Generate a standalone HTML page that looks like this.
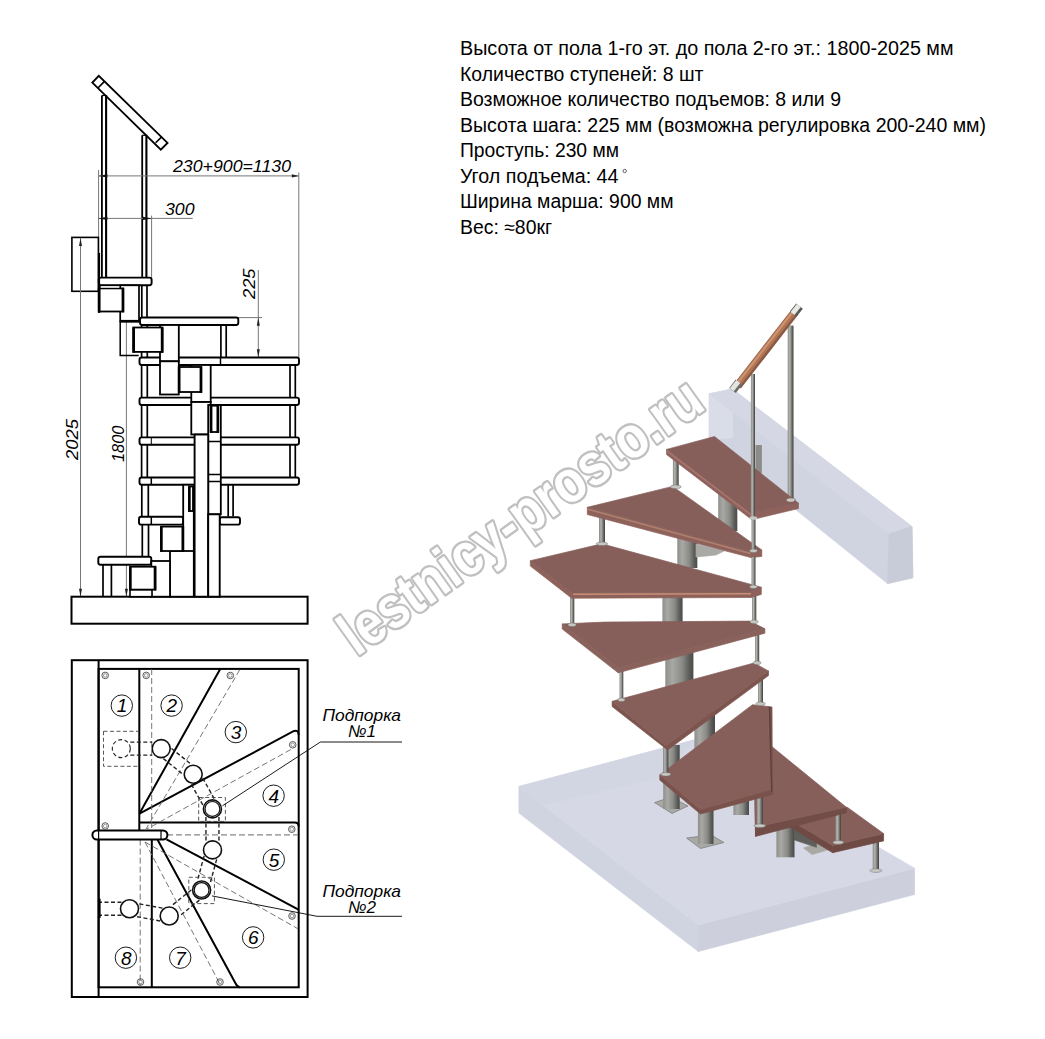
<!DOCTYPE html>
<html><head><meta charset="utf-8"><style>
html,body{margin:0;padding:0;background:#fff;width:1045px;height:1039px;overflow:hidden}
svg{display:block}
.info{font-family:"Liberation Sans",sans-serif;font-size:19.4px;fill:#000}
.dim{font-family:"Liberation Sans",sans-serif;font-style:italic;font-size:17px;fill:#000}
.num{font-family:"Liberation Sans",sans-serif;font-style:italic;font-size:19px;fill:#000}
</style></head><body>
<svg width="1045" height="1039" viewBox="0 0 1045 1039">
<text x="460" y="55.0" textLength="493.5" lengthAdjust="spacingAndGlyphs" class="info">Высота от пола 1-го эт. до пола 2-го эт.: 1800-2025 мм</text>
<text x="460" y="80.6" textLength="243.5" lengthAdjust="spacingAndGlyphs" class="info">Количество ступеней: 8 шт</text>
<text x="460" y="106.1" textLength="381.0" lengthAdjust="spacingAndGlyphs" class="info">Возможное количество подъемов: 8 или 9</text>
<text x="460" y="131.7" textLength="526.0" lengthAdjust="spacingAndGlyphs" class="info">Высота шага: 225 мм (возможна регулировка 200-240 мм)</text>
<text x="460" y="157.3" textLength="159.0" lengthAdjust="spacingAndGlyphs" class="info">Проступь: 230 мм</text>
<text x="460" y="182.8" textLength="158.5" lengthAdjust="spacingAndGlyphs" class="info">Угол подъема: 44</text>
<text x="460" y="208.4" textLength="213.5" lengthAdjust="spacingAndGlyphs" class="info">Ширина марша: 900 мм</text>
<text x="460" y="234.0" textLength="92.0" lengthAdjust="spacingAndGlyphs" class="info">Вес: ≈80кг</text>
<circle cx="624.7" cy="171" r="1.7" fill="none" stroke="#555" stroke-width="0.9"/>
<path d="M92.3,82.6 L98.8,75.8 L167.5,142.9 L160.8,149.6 Z" fill="#fff" stroke="#000" stroke-width="1.9"/>
<line x1="98.2" y1="87.8" x2="104.5" y2="81.4" stroke="#000" stroke-width="1.6" />
<line x1="155.6" y1="142.8" x2="162.0" y2="136.6" stroke="#000" stroke-width="1.6" />
<line x1="101.9" y1="95.5" x2="101.9" y2="278" stroke="#000" stroke-width="1.8" />
<line x1="106.1" y1="95.0" x2="106.1" y2="278" stroke="#000" stroke-width="2.1" />
<line x1="101.9" y1="95.5" x2="106.1" y2="95.5" stroke="#000" stroke-width="1.2" />
<line x1="142.2" y1="135.3" x2="142.2" y2="278" stroke="#000" stroke-width="1.8" />
<line x1="146.4" y1="134.8" x2="146.4" y2="278" stroke="#000" stroke-width="2.1" />
<line x1="142.2" y1="135.3" x2="146.4" y2="135.3" stroke="#000" stroke-width="1.2" />
<line x1="98.4" y1="175.9" x2="298.8" y2="175.9" stroke="#777" stroke-width="1" />
<path d="M298.8,175.9 L291.80,177.50 L291.80,174.30 Z" fill="#222"/>
<path d="M98.4,175.9 L107.40,174.20 L107.40,177.60 Z" fill="#111"/>
<line x1="298.8" y1="172.5" x2="298.8" y2="357" stroke="#777" stroke-width="1" />
<line x1="98.6" y1="170" x2="98.6" y2="276" stroke="#777" stroke-width="1" />
<line x1="98.4" y1="218.4" x2="192.7" y2="218.4" stroke="#777" stroke-width="1" />
<path d="M98.4,218.4 L107.40,216.70 L107.40,220.10 Z" fill="#111"/>
<path d="M152,218.4 L143.00,220.10 L143.00,216.70 Z" fill="#111"/>
<line x1="151.6" y1="215.6" x2="151.6" y2="283" stroke="#777" stroke-width="1" />
<text x="173" y="172" class="dim" textLength="118" lengthAdjust="spacingAndGlyphs">230+900=1130</text>
<text x="165" y="215.3" class="dim" textLength="29.5" lengthAdjust="spacingAndGlyphs">300</text>
<text transform="translate(77.8,460) rotate(-90)" class="dim" textLength="41" lengthAdjust="spacingAndGlyphs">2025</text>
<text transform="translate(123.5,462) rotate(-90)" class="dim" textLength="36.5" lengthAdjust="spacingAndGlyphs">1800</text>
<text transform="translate(255,299) rotate(-90)" class="dim" textLength="30.5" lengthAdjust="spacingAndGlyphs">225</text>
<rect x="71.9" y="237.4" width="26.50" height="53.90" rx="0" fill="none" stroke="#000" stroke-width="1.6"/>
<line x1="80.5" y1="238" x2="80.5" y2="596.7" stroke="#777" stroke-width="1" />
<path d="M80.5,238 L82.00,246.00 L79.00,246.00 Z" fill="#222"/>
<path d="M80.5,596.7 L79.00,588.70 L82.00,588.70 Z" fill="#222"/>
<line x1="126.4" y1="280" x2="126.4" y2="596.7" stroke="#777" stroke-width="1" />
<path d="M126.4,279.6 L127.90,287.60 L124.90,287.60 Z" fill="#222"/>
<path d="M126.4,596.7 L124.90,588.70 L127.90,588.70 Z" fill="#222"/>
<line x1="238" y1="317.6" x2="262" y2="317.6" stroke="#777" stroke-width="1" />
<line x1="258.3" y1="270" x2="258.3" y2="357.4" stroke="#777" stroke-width="1" />
<path d="M258.3,317.8 L259.80,325.80 L256.80,325.80 Z" fill="#222"/>
<path d="M258.3,357.2 L256.80,349.20 L259.80,349.20 Z" fill="#222"/>
<rect x="71.5" y="596.7" width="236.10" height="27.00" rx="0" fill="none" stroke="#000" stroke-width="2"/>
<line x1="141.8" y1="286" x2="141.8" y2="317.6" stroke="#000" stroke-width="1.7" />
<line x1="147.0" y1="286" x2="147.0" y2="317.6" stroke="#000" stroke-width="1.7" />
<line x1="141.6" y1="324.9" x2="141.6" y2="357.4" stroke="#000" stroke-width="1.7" />
<line x1="147.3" y1="324.9" x2="147.3" y2="357.4" stroke="#000" stroke-width="1.7" />
<line x1="141.6" y1="365" x2="141.6" y2="397.6" stroke="#000" stroke-width="1.7" />
<line x1="147.3" y1="365" x2="147.3" y2="397.6" stroke="#000" stroke-width="1.7" />
<line x1="141.6" y1="404.9" x2="141.6" y2="437.4" stroke="#000" stroke-width="1.7" />
<line x1="147.3" y1="404.9" x2="147.3" y2="437.4" stroke="#000" stroke-width="1.7" />
<line x1="141.6" y1="445" x2="141.6" y2="477.1" stroke="#000" stroke-width="1.7" />
<line x1="147.3" y1="445" x2="147.3" y2="477.1" stroke="#000" stroke-width="1.7" />
<line x1="141.8" y1="484.7" x2="141.8" y2="516.6" stroke="#000" stroke-width="1.7" />
<line x1="148.3" y1="484.7" x2="148.3" y2="516.6" stroke="#000" stroke-width="1.7" />
<line x1="142.3" y1="525" x2="142.3" y2="556.7" stroke="#000" stroke-width="1.7" />
<line x1="148.5" y1="525" x2="148.5" y2="556.7" stroke="#000" stroke-width="1.7" />
<line x1="220.9" y1="324.9" x2="220.9" y2="357.4" stroke="#000" stroke-width="1.7" />
<line x1="226.2" y1="324.9" x2="226.2" y2="357.4" stroke="#000" stroke-width="1.7" />
<line x1="290" y1="365" x2="290" y2="397.6" stroke="#000" stroke-width="1.7" />
<line x1="295.3" y1="365" x2="295.3" y2="397.6" stroke="#000" stroke-width="1.7" />
<line x1="290" y1="404.9" x2="290" y2="437.4" stroke="#000" stroke-width="1.7" />
<line x1="295.3" y1="404.9" x2="295.3" y2="437.4" stroke="#000" stroke-width="1.7" />
<line x1="290" y1="445" x2="290" y2="477.1" stroke="#000" stroke-width="1.7" />
<line x1="295.3" y1="445" x2="295.3" y2="477.1" stroke="#000" stroke-width="1.7" />
<line x1="228.2" y1="484.7" x2="228.2" y2="516.6" stroke="#000" stroke-width="1.7" />
<line x1="233.1" y1="484.7" x2="233.1" y2="516.6" stroke="#000" stroke-width="1.7" />
<line x1="103" y1="564.4" x2="103" y2="596.7" stroke="#000" stroke-width="1.7" />
<line x1="111.4" y1="564.4" x2="111.4" y2="596.7" stroke="#000" stroke-width="1.7" />
<rect x="98.8" y="277.6" width="52.80" height="7.70" rx="2.2" fill="#fff" stroke="#000" stroke-width="1.9"/>
<rect x="140" y="317.5" width="98.30" height="7.50" rx="2.2" fill="#fff" stroke="#000" stroke-width="1.9"/>
<rect x="139.5" y="357.5" width="159.50" height="7.50" rx="2.2" fill="#fff" stroke="#000" stroke-width="1.9"/>
<rect x="139.5" y="397.6" width="159.50" height="7.40" rx="2.2" fill="#fff" stroke="#000" stroke-width="1.9"/>
<rect x="139.5" y="437.4" width="159.50" height="7.30" rx="2.2" fill="#fff" stroke="#000" stroke-width="1.9"/>
<rect x="139.5" y="477.5" width="159.50" height="7.30" rx="2.2" fill="#fff" stroke="#000" stroke-width="1.9"/>
<rect x="139" y="516.7" width="44.20" height="7.90" rx="2.2" fill="#fff" stroke="#000" stroke-width="1.9"/>
<rect x="219.7" y="517.2" width="20.30" height="7.40" rx="2.2" fill="#fff" stroke="#000" stroke-width="1.9"/>
<rect x="98.3" y="556.8" width="53.00" height="8.00" rx="2.2" fill="#fff" stroke="#000" stroke-width="1.9"/>
<line x1="220.5" y1="357.5" x2="220.5" y2="365" stroke="#000" stroke-width="1.5" />
<line x1="151.3" y1="477.5" x2="151.3" y2="484.8" stroke="#000" stroke-width="1.5" />
<line x1="151.3" y1="516.7" x2="151.3" y2="524.6" stroke="#000" stroke-width="1.5" />
<line x1="151.3" y1="437.4" x2="151.3" y2="444.7" stroke="#000" stroke-width="1.0" />
<rect x="120.2" y="285.3" width="18.80" height="35.90" rx="0" fill="#fff" stroke="#000" stroke-width="1.7"/>
<rect x="160" y="325" width="18.80" height="36.30" rx="0" fill="#fff" stroke="#000" stroke-width="1.8"/>
<rect x="160" y="361.3" width="18.80" height="33.20" rx="0" fill="#fff" stroke="#000" stroke-width="1.8"/>
<rect x="191.3" y="365" width="19.40" height="37.00" rx="0" fill="#fff" stroke="#000" stroke-width="1.8"/>
<rect x="191.3" y="402" width="19.40" height="32.50" rx="0" fill="#fff" stroke="#000" stroke-width="1.8"/>
<rect x="208.2" y="405" width="12.60" height="109.30" rx="0" fill="#fff" stroke="#000" stroke-width="1.8"/>
<rect x="194.6" y="434.5" width="13.60" height="162.20" rx="0" fill="#fff" stroke="#000" stroke-width="1.9"/>
<rect x="208.2" y="514.3" width="11.50" height="82.40" rx="0" fill="#fff" stroke="#000" stroke-width="1.9"/>
<rect x="183.2" y="484.8" width="10.60" height="69.60" rx="0" fill="#fff" stroke="#000" stroke-width="1.8"/>
<rect x="170" y="551" width="23.80" height="45.70" rx="0" fill="#fff" stroke="#000" stroke-width="1.8"/>
<rect x="151.3" y="561" width="18.70" height="35.70" rx="0" fill="#fff" stroke="#000" stroke-width="1.8"/>
<rect x="130" y="589.6" width="22.00" height="7.10" rx="0" fill="#fff" stroke="#000" stroke-width="1.6"/>
<line x1="208.2" y1="441.5" x2="220.8" y2="441.5" stroke="#000" stroke-width="1.5" />
<line x1="208.2" y1="474.5" x2="220.8" y2="474.5" stroke="#000" stroke-width="1.5" />
<line x1="208.2" y1="481.5" x2="220.8" y2="481.5" stroke="#000" stroke-width="1.5" />
<line x1="120.2" y1="321.2" x2="139" y2="321.2" stroke="#000" stroke-width="2.6" />
<path d="M139,321.5 L120.2,321.5 L120.2,355.5 L138.7,355.5" fill="none" stroke="#000" stroke-width="1.5"/>
<rect x="98.8" y="288.4" width="24.50" height="23.10" rx="0" fill="#fff" stroke="#000" stroke-width="1.8"/>
<line x1="99.2" y1="288.4" x2="99.2" y2="312.3" stroke="#000" stroke-width="2.6" />
<line x1="122.89999999999999" y1="288.4" x2="122.89999999999999" y2="312.3" stroke="#000" stroke-width="2.6" />
<rect x="133.3" y="327.5" width="29.20" height="24.40" rx="0" fill="#fff" stroke="#000" stroke-width="1.8"/>
<line x1="133.70000000000002" y1="327.5" x2="133.70000000000002" y2="352.7" stroke="#000" stroke-width="2.6" />
<line x1="162.1" y1="327.5" x2="162.1" y2="352.7" stroke="#000" stroke-width="2.6" />
<rect x="178.8" y="367" width="22.50" height="25.00" rx="0" fill="#fff" stroke="#000" stroke-width="1.8"/>
<line x1="179.20000000000002" y1="367" x2="179.20000000000002" y2="392.8" stroke="#000" stroke-width="2.6" />
<line x1="200.9" y1="367" x2="200.9" y2="392.8" stroke="#000" stroke-width="2.6" />
<rect x="210.7" y="405.7" width="7.50" height="26.30" rx="0" fill="#fff" stroke="#000" stroke-width="1.8"/>
<line x1="211.1" y1="405.7" x2="211.1" y2="432.8" stroke="#000" stroke-width="2.6" />
<line x1="217.79999999999998" y1="405.7" x2="217.79999999999998" y2="432.8" stroke="#000" stroke-width="2.6" />
<rect x="189" y="486.5" width="4.80" height="24.50" rx="0" fill="#fff" stroke="#000" stroke-width="1.8"/>
<line x1="189.4" y1="486.5" x2="189.4" y2="511.8" stroke="#000" stroke-width="2.6" />
<line x1="193.4" y1="486.5" x2="193.4" y2="511.8" stroke="#000" stroke-width="2.6" />
<rect x="161" y="526.6" width="22.20" height="24.40" rx="0" fill="#fff" stroke="#000" stroke-width="1.8"/>
<line x1="161.4" y1="526.6" x2="161.4" y2="551.8" stroke="#000" stroke-width="2.6" />
<line x1="182.79999999999998" y1="526.6" x2="182.79999999999998" y2="551.8" stroke="#000" stroke-width="2.6" />
<rect x="130" y="566.7" width="25.40" height="22.90" rx="0" fill="#fff" stroke="#000" stroke-width="1.8"/>
<line x1="130.4" y1="566.7" x2="130.4" y2="590.4" stroke="#000" stroke-width="2.6" />
<line x1="155.0" y1="566.7" x2="155.0" y2="590.4" stroke="#000" stroke-width="2.6" />
<rect x="100" y="285.5" width="20.00" height="2.90" rx="0" fill="#fff" stroke="#000" stroke-width="1.2"/>
<line x1="99" y1="253" x2="99" y2="312.8" stroke="#000" stroke-width="2.2" />
<rect x="71.8" y="660.2" width="235.8" height="336.8" fill="none" stroke="#000" stroke-width="2"/>
<line x1="98.60" y1="660.00" x2="98.60" y2="997.00" stroke="#000" stroke-width="2" />
<rect x="98.6" y="668.9" width="200.1" height="318.4" fill="none" stroke="#000" stroke-width="2"/>
<line x1="139.30" y1="668.90" x2="139.30" y2="830.00" stroke="#000" stroke-width="2" />
<line x1="151.80" y1="839.60" x2="151.80" y2="987.30" stroke="#000" stroke-width="2" />
<path d="M139.3,822.6 L294.7,822.6 Q298.7,822.6 298.7,826.6" fill="none" stroke="#000" stroke-width="2"/>
<line x1="139.50" y1="813.60" x2="220.20" y2="669.00" stroke="#000" stroke-width="2" />
<path d="M139.5,813.6 L293.5,731.2 Q298.5,729.5 298.7,735" fill="none" stroke="#000" stroke-width="2"/>
<line x1="166.50" y1="839.30" x2="298.50" y2="909.60" stroke="#000" stroke-width="2" />
<path d="M157.3,839.3 L235.6,983.5 Q237.6,987.3 240,987.3" fill="none" stroke="#000" stroke-width="2"/>
<line x1="151.70" y1="669.00" x2="151.70" y2="830.00" stroke="#666" stroke-width="0.9" stroke-dasharray="6 3"/>
<line x1="140.20" y1="839.60" x2="140.20" y2="987.00" stroke="#666" stroke-width="0.9" stroke-dasharray="6 3"/>
<line x1="167.00" y1="834.80" x2="298.00" y2="834.80" stroke="#888" stroke-width="1.2" stroke-dasharray="6 3"/>
<line x1="239.80" y1="669.70" x2="146.00" y2="829.00" stroke="#666" stroke-width="0.9" stroke-dasharray="6 3"/>
<line x1="290.90" y1="749.50" x2="147.00" y2="829.00" stroke="#666" stroke-width="0.9" stroke-dasharray="6 3"/>
<line x1="145.00" y1="842.00" x2="298.00" y2="928.80" stroke="#666" stroke-width="0.9" stroke-dasharray="6 3"/>
<line x1="145.00" y1="842.00" x2="219.30" y2="982.80" stroke="#666" stroke-width="0.9" stroke-dasharray="6 3"/>
<rect x="92.4" y="830.5" width="75" height="9.1" rx="4.5" fill="#fff" stroke="#000" stroke-width="2"/>
<line x1="98.60" y1="830.50" x2="98.60" y2="839.60" stroke="#000" stroke-width="1.2" />
<line x1="161.00" y1="830.50" x2="161.00" y2="839.60" stroke="#000" stroke-width="1.2" />
<rect x="103.5" y="731.3" width="35.2" height="35" fill="none" stroke="#444" stroke-width="0.9" stroke-dasharray="4 2.5"/>
<circle cx="121.3" cy="748.6" r="9" fill="none" stroke="#222" stroke-width="1.1" stroke-dasharray="4 2.5"/>
<line x1="130.30" y1="755.10" x2="152.20" y2="755.10" stroke="#222" stroke-width="1.4" stroke-dasharray="4 2.5"/><line x1="130.30" y1="742.10" x2="152.20" y2="742.10" stroke="#222" stroke-width="1.4" stroke-dasharray="4 2.5"/>
<line x1="163.39" y1="758.67" x2="182.89" y2="774.28" stroke="#222" stroke-width="1.4" stroke-dasharray="4 2.5"/><line x1="171.51" y1="748.52" x2="191.01" y2="764.13" stroke="#222" stroke-width="1.4" stroke-dasharray="4 2.5"/>
<line x1="191.39" y1="784.35" x2="202.84" y2="805.05" stroke="#222" stroke-width="1.4" stroke-dasharray="4 2.5"/><line x1="202.76" y1="778.05" x2="214.21" y2="798.75" stroke="#222" stroke-width="1.4" stroke-dasharray="4 2.5"/>
<line x1="205.92" y1="816.92" x2="205.98" y2="841.92" stroke="#222" stroke-width="1.4" stroke-dasharray="4 2.5"/><line x1="218.92" y1="816.88" x2="218.98" y2="841.88" stroke="#222" stroke-width="1.4" stroke-dasharray="4 2.5"/>
<line x1="204.13" y1="855.91" x2="197.43" y2="880.58" stroke="#222" stroke-width="1.4" stroke-dasharray="4 2.5"/><line x1="216.67" y1="859.32" x2="209.97" y2="883.99" stroke="#222" stroke-width="1.4" stroke-dasharray="4 2.5"/>
<line x1="191.29" y1="889.94" x2="171.37" y2="905.92" stroke="#222" stroke-width="1.4" stroke-dasharray="4 2.5"/><line x1="199.43" y1="900.08" x2="179.51" y2="916.06" stroke="#222" stroke-width="1.4" stroke-dasharray="4 2.5"/>
<line x1="162.51" y1="908.16" x2="138.54" y2="903.75" stroke="#222" stroke-width="1.4" stroke-dasharray="4 2.5"/><line x1="160.16" y1="920.95" x2="136.19" y2="916.54" stroke="#222" stroke-width="1.4" stroke-dasharray="4 2.5"/>
<line x1="121.50" y1="902.20" x2="99.50" y2="902.20" stroke="#222" stroke-width="1.4" stroke-dasharray="4 2.5"/><line x1="121.50" y1="915.20" x2="99.50" y2="915.20" stroke="#222" stroke-width="1.4" stroke-dasharray="4 2.5"/>
<line x1="99.50" y1="898.70" x2="99.50" y2="918.00" stroke="#000" stroke-width="2.2" />
<circle cx="161.2" cy="748.6" r="9" fill="#fff" stroke="#111" stroke-width="1.6" />
<circle cx="193.2" cy="774.2" r="9" fill="#fff" stroke="#111" stroke-width="1.6" />
<circle cx="212.4" cy="808.9" r="9" fill="#fff" stroke="#111" stroke-width="1.6" />
<circle cx="212.5" cy="849.9" r="9" fill="#fff" stroke="#111" stroke-width="1.6" />
<circle cx="201.6" cy="890" r="9" fill="#fff" stroke="#111" stroke-width="1.6" />
<circle cx="169.2" cy="916" r="9" fill="#fff" stroke="#111" stroke-width="1.6" />
<circle cx="129.5" cy="908.7" r="9" fill="#fff" stroke="#111" stroke-width="1.6" />
<circle cx="212.4" cy="808.9" r="7.4" fill="none" stroke="#111" stroke-width="1.2" />
<circle cx="201.6" cy="890" r="7.4" fill="none" stroke="#111" stroke-width="1.2" />
<rect x="198.7" y="797.5" width="26.7" height="23.9" fill="none" stroke="#444" stroke-width="0.9" stroke-dasharray="4 2.5"/>
<rect x="188.8" y="877.3" width="25.6" height="26.3" fill="none" stroke="#444" stroke-width="0.9" stroke-dasharray="4 2.5"/>
<polyline points="222.5,805.8 320.4,742 402,742" fill="none" stroke="#000" stroke-width="0.9"/>
<line x1="320.40" y1="742.00" x2="402.00" y2="742.00" stroke="#888" stroke-width="1.2" />
<polyline points="212,895.9 317,916.3 402,916.3" fill="none" stroke="#000" stroke-width="0.9"/>
<text x="322.5" y="721.2" class="dim" textLength="78.5" lengthAdjust="spacingAndGlyphs">Подпорка</text>
<text x="348" y="737.3" class="dim" textLength="28" lengthAdjust="spacingAndGlyphs">№1</text>
<text x="322.5" y="896.7" class="dim" textLength="78.5" lengthAdjust="spacingAndGlyphs">Подпорка</text>
<text x="348" y="912.9" class="dim" textLength="28" lengthAdjust="spacingAndGlyphs">№2</text>
<circle cx="105.2" cy="675.4" r="3.3" fill="none" stroke="#333" stroke-width="0.8" /><circle cx="105.2" cy="675.4" r="1.8" fill="none" stroke="#555" stroke-width="0.6" />
<circle cx="146.2" cy="675.4" r="3.3" fill="none" stroke="#333" stroke-width="0.8" /><circle cx="146.2" cy="675.4" r="1.8" fill="none" stroke="#555" stroke-width="0.6" />
<circle cx="230.3" cy="675.5" r="3.3" fill="none" stroke="#333" stroke-width="0.8" /><circle cx="230.3" cy="675.5" r="1.8" fill="none" stroke="#555" stroke-width="0.6" />
<circle cx="292.7" cy="744.8" r="3.3" fill="none" stroke="#333" stroke-width="0.8" /><circle cx="292.7" cy="744.8" r="1.8" fill="none" stroke="#555" stroke-width="0.6" />
<circle cx="291.8" cy="829.2" r="3.3" fill="none" stroke="#333" stroke-width="0.8" /><circle cx="291.8" cy="829.2" r="1.8" fill="none" stroke="#555" stroke-width="0.6" />
<circle cx="105.2" cy="826" r="3.3" fill="none" stroke="#333" stroke-width="0.8" /><circle cx="105.2" cy="826" r="1.8" fill="none" stroke="#555" stroke-width="0.6" />
<circle cx="292" cy="916" r="3.3" fill="none" stroke="#333" stroke-width="0.8" /><circle cx="292" cy="916" r="1.8" fill="none" stroke="#555" stroke-width="0.6" />
<circle cx="220" cy="982" r="3.3" fill="none" stroke="#333" stroke-width="0.8" /><circle cx="220" cy="982" r="1.8" fill="none" stroke="#555" stroke-width="0.6" />
<circle cx="140.5" cy="982" r="3.3" fill="none" stroke="#333" stroke-width="0.8" /><circle cx="140.5" cy="982" r="1.8" fill="none" stroke="#555" stroke-width="0.6" />
<circle cx="121.8" cy="705.6" r="10.7" fill="none" stroke="#000" stroke-width="0.9" /><text x="122.1" y="712.4" class="num" text-anchor="middle">1</text>
<circle cx="171.6" cy="705.6" r="10.7" fill="none" stroke="#000" stroke-width="0.9" /><text x="171.9" y="712.4" class="num" text-anchor="middle">2</text>
<circle cx="235.8" cy="732.1" r="10.7" fill="none" stroke="#000" stroke-width="0.9" /><text x="236.1" y="738.9" class="num" text-anchor="middle">3</text>
<circle cx="273.6" cy="795.7" r="10.7" fill="none" stroke="#000" stroke-width="0.9" /><text x="273.9" y="802.5" class="num" text-anchor="middle">4</text>
<circle cx="273.8" cy="859.7" r="10.7" fill="none" stroke="#000" stroke-width="0.9" /><text x="274.1" y="866.5" class="num" text-anchor="middle">5</text>
<circle cx="253.1" cy="937.4" r="10.7" fill="none" stroke="#000" stroke-width="0.9" /><text x="253.4" y="944.2" class="num" text-anchor="middle">6</text>
<circle cx="180.2" cy="957.7" r="10.7" fill="none" stroke="#000" stroke-width="0.9" /><text x="180.5" y="964.5" class="num" text-anchor="middle">7</text>
<circle cx="125.9" cy="957.7" r="10.7" fill="none" stroke="#000" stroke-width="0.9" /><text x="126.2" y="964.5" class="num" text-anchor="middle">8</text>
<defs>
<linearGradient id="cyl" x1="0" x2="1" y1="0" y2="0"><stop offset="0" stop-color="#8e8e8a"/><stop offset="0.25" stop-color="#a8a8a4"/><stop offset="0.6" stop-color="#8a8a86"/><stop offset="0.85" stop-color="#5c5c5a"/><stop offset="1" stop-color="#4a4a48"/></linearGradient>
<linearGradient id="rod" x1="0" x2="1" y1="0" y2="0"><stop offset="0" stop-color="#8a8a86"/><stop offset="0.35" stop-color="#b4b4b0"/><stop offset="0.65" stop-color="#7a7a76"/><stop offset="1" stop-color="#3e3e3c"/></linearGradient>
</defs>
<polygon points="518.9,786.5 698.3,925.0 698.3,951.5 518.9,813.0" fill="#d0d3e0"  stroke="#d0d3e0" stroke-width="0.7" stroke-linejoin="round"/>
<polygon points="698.3,925.0 914.5,868.2 914.5,894.5 698.3,951.5" fill="#cdd0dc"  stroke="#cdd0dc" stroke-width="0.7" stroke-linejoin="round"/>
<polygon points="518.9,786.5 693.8,740.0 914.5,868.2 698.3,925.0" fill="#d6d9e5"  stroke="#d6d9e5" stroke-width="0.7" stroke-linejoin="round"/>
<polygon points="518.9,786.5 693.8,740.0 662.8,776.5 543.2,805.3" fill="#d2d5e2"  stroke="#d2d5e2" stroke-width="0.7" stroke-linejoin="round"/>
<polygon points="709.2,393.9 732.4,389.1 912.0,526.6 912.8,577.8 887.5,583.6 709.2,440.0" fill="#d0d3e0"  stroke="#d0d3e0" stroke-width="0.7" stroke-linejoin="round"/>
<polygon points="709.2,393.9 732.4,389.1 732.8,437.7 709.2,440.0" fill="#dadde8"  stroke="#dadde8" stroke-width="0.7" stroke-linejoin="round"/>
<polygon points="709.2,393.9 732.4,389.1 912.0,526.6 889.0,533.8" fill="#d5d8e4"  stroke="#d5d8e4" stroke-width="0.7" stroke-linejoin="round"/>
<polygon points="889.0,533.8 912.0,526.6 912.8,577.8 887.5,583.6" fill="#c8cbd8"  stroke="#c8cbd8" stroke-width="0.7" stroke-linejoin="round"/>
<rect x="755.5" y="445" width="6.4" height="28" fill="#8c8c88"/>
<rect x="787.7" y="325.6" width="5.8" height="175.4" fill="url(#rod)"/><ellipse cx="790.6" cy="499.8" rx="5.5" ry="1.8" fill="#c8c8c2" stroke="#707070" stroke-width="0.5"/>
<polygon points="654.6,802.6 672.0,813.5 688.0,806.0 671.0,797.0" fill="#a8a8a4" stroke="#6a6a68" stroke-width="0.6"/>
<rect x="663.2" y="745.0" width="16.5" height="64.0" fill="url(#cyl)"/>
<polygon points="686.6,838.1 700.5,848.5 723.9,842.5 710.9,834.7" fill="#a8a8a4" stroke="#6a6a68" stroke-width="0.6"/>
<rect x="697.9" y="800.0" width="15.6" height="44.0" fill="url(#cyl)"/>
<rect x="733.4" y="795.0" width="15.6" height="20.0" fill="url(#cyl)"/>
<polygon points="803.6,848.0 812.0,854.5 831.0,849.0 822.0,841.8" fill="#a8a8a4"  stroke="#a8a8a4" stroke-width="0.7" stroke-linejoin="round"/>
<polygon points="794.5,825.5 816.4,835.0 816.4,847.3 794.5,840.0" fill="#5e5e5c"  stroke="#5e5e5c" stroke-width="0.7" stroke-linejoin="round"/>
<rect x="776.4" y="820.0" width="18.1" height="37.3" fill="url(#cyl)"/>
<rect x="872.7" y="838.0" width="6.3" height="33.8" fill="url(#rod)"/><ellipse cx="875.9" cy="870.6" rx="6.0" ry="1.8" fill="#c8c8c2" stroke="#707070" stroke-width="0.5"/>
<polygon points="790.0,820.0 832.7,845.5 832.7,852.7 790.0,827.0" fill="#6f4a45"  stroke="#6f4a45" stroke-width="0.7" stroke-linejoin="round"/><polygon points="832.7,845.5 883.6,833.6 883.6,840.9 832.7,852.7" fill="#6f4a45"  stroke="#6f4a45" stroke-width="0.7" stroke-linejoin="round"/><polygon points="790.0,820.0 847.3,807.3 883.6,833.6 832.7,845.5" fill="#865f5a"  stroke="#865f5a" stroke-width="0.7" stroke-linejoin="round"/>
<rect x="835.5" y="812.0" width="5.5" height="31.6" fill="url(#rod)"/><ellipse cx="838.2" cy="842.4" rx="5.2" ry="1.8" fill="#c8c8c2" stroke="#707070" stroke-width="0.5"/>
<polygon points="755.5,827.3 846.4,807.3 846.4,812.7 755.5,836.4" fill="#724c47"  stroke="#724c47" stroke-width="0.7" stroke-linejoin="round"/><polygon points="755.0,795.0 755.5,827.3 755.5,836.4 755.0,800.0" fill="#724c47"  stroke="#724c47" stroke-width="0.7" stroke-linejoin="round"/><polygon points="755.0,790.0 770.0,745.0 846.4,807.3 755.5,827.3" fill="#865f5a"  stroke="#865f5a" stroke-width="0.7" stroke-linejoin="round"/>
<rect x="756.8" y="790.0" width="6.1" height="36.9" fill="url(#rod)"/><ellipse cx="759.8" cy="825.7" rx="5.8" ry="1.8" fill="#c8c8c2" stroke="#707070" stroke-width="0.5"/>
<rect x="697.7" y="712.0" width="17.3" height="33.0" fill="url(#cyl)"/>
<rect x="694.4" y="716.0" width="19.9" height="44.0" fill="url(#cyl)"/>
<polygon points="659.8,774.9 700.5,809.5 700.5,814.0 659.8,780.1" fill="#7a524c"  stroke="#7a524c" stroke-width="0.7" stroke-linejoin="round"/><polygon points="700.5,809.5 770.7,789.6 772.4,794.5 700.5,814.0" fill="#7a524c"  stroke="#7a524c" stroke-width="0.7" stroke-linejoin="round"/><polygon points="768.0,706.5 772.0,707.0 772.4,794.5 770.7,789.6" fill="#7a524c"  stroke="#7a524c" stroke-width="0.7" stroke-linejoin="round"/><polygon points="752.5,704.7 768.0,706.5 770.7,789.6 700.5,809.5 659.8,774.9" fill="#865f5a"  stroke="#865f5a" stroke-width="0.7" stroke-linejoin="round"/>
<line x1="769.5" y1="707" x2="771.8" y2="792" stroke="#5e403b" stroke-width="1.3"/>
<rect x="663.2" y="745.0" width="5.2" height="30.5" fill="url(#rod)"/><ellipse cx="665.8" cy="774.3" rx="4.9" ry="1.8" fill="#c8c8c2" stroke="#707070" stroke-width="0.5"/>
<rect x="758.0" y="672.0" width="5.0" height="33.0" fill="url(#rod)"/><ellipse cx="760.5" cy="703.8" rx="4.8" ry="1.8" fill="#c8c8c2" stroke="#707070" stroke-width="0.5"/>
<rect x="665.3" y="650.0" width="28.1" height="40.0" fill="url(#cyl)"/>
<polygon points="612.1,701.3 665.8,745.4 667.6,750.0 612.1,706.5" fill="#7d544e"  stroke="#7d544e" stroke-width="0.7" stroke-linejoin="round"/><polygon points="665.8,745.4 768.5,671.0 768.5,675.5 667.6,750.0" fill="#7d544e"  stroke="#7d544e" stroke-width="0.7" stroke-linejoin="round"/><polygon points="612.1,701.3 754.0,663.0 768.5,671.0 665.8,745.4" fill="#865f5a"  stroke="#865f5a" stroke-width="0.7" stroke-linejoin="round"/>
<rect x="619.5" y="667.0" width="3.8" height="34.0" fill="url(#rod)"/><ellipse cx="621.4" cy="699.8" rx="3.6" ry="1.8" fill="#c8c8c2" stroke="#707070" stroke-width="0.5"/>
<rect x="755.0" y="632.0" width="4.2" height="32.0" fill="url(#rod)"/><ellipse cx="757.1" cy="662.8" rx="4.0" ry="1.8" fill="#c8c8c2" stroke="#707070" stroke-width="0.5"/>
<rect x="662.4" y="595.0" width="20.2" height="31.0" fill="url(#cyl)"/>
<polygon points="562.2,623.9 618.2,667.8 618.2,672.8 562.2,629.0" fill="#8a625c"  stroke="#8a625c" stroke-width="0.7" stroke-linejoin="round"/><polygon points="618.2,667.8 764.9,628.8 764.9,633.2 618.2,672.8" fill="#8a625c"  stroke="#8a625c" stroke-width="0.7" stroke-linejoin="round"/><polygon points="562.2,623.9 604.4,622.1 749.7,621.1 764.9,628.8 618.2,667.8" fill="#865f5a"  stroke="#865f5a" stroke-width="0.7" stroke-linejoin="round"/>
<rect x="570.0" y="596.0" width="4.3" height="30.0" fill="url(#rod)"/><ellipse cx="572.1" cy="624.8" rx="4.1" ry="1.8" fill="#c8c8c2" stroke="#707070" stroke-width="0.5"/>
<rect x="752.0" y="594.0" width="4.3" height="29.0" fill="url(#rod)"/><ellipse cx="754.1" cy="621.8" rx="4.1" ry="1.8" fill="#c8c8c2" stroke="#707070" stroke-width="0.5"/>
<rect x="677.3" y="536.0" width="20.0" height="32.0" fill="url(#cyl)"/>
<polygon points="530.3,560.7 571.7,592.9 571.7,598.2 530.3,566.0" fill="#8e625b"  stroke="#8e625b" stroke-width="0.7" stroke-linejoin="round"/><polygon points="571.7,592.9 751.0,592.3 751.0,597.5 571.7,598.2" fill="#8e625b"  stroke="#8e625b" stroke-width="0.7" stroke-linejoin="round"/><polygon points="751.0,592.3 761.3,587.2 761.3,594.4 751.0,597.5" fill="#8e625b"  stroke="#8e625b" stroke-width="0.7" stroke-linejoin="round"/><polygon points="530.3,560.7 601.8,543.8 761.3,587.2 751.0,592.3 571.7,592.9" fill="#865f5a"  stroke="#865f5a" stroke-width="0.7" stroke-linejoin="round"/>
<line x1="573" y1="594.2" x2="751" y2="593.7" stroke="#c89074" stroke-width="1.6"/>
<rect x="599.0" y="512.0" width="6.0" height="33.0" fill="url(#rod)"/><ellipse cx="602.0" cy="543.8" rx="5.7" ry="1.8" fill="#c8c8c2" stroke="#707070" stroke-width="0.5"/>
<polygon points="696.0,544.0 724.0,551.0 716.0,555.0 696.0,557.0" fill="#a9a9a5"  stroke="#a9a9a5" stroke-width="0.7" stroke-linejoin="round"/>
<rect x="718.2" y="493.0" width="19.1" height="38.0" fill="url(#cyl)"/>
<polygon points="587.3,507.3 750.9,551.8 750.9,557.6 587.3,514.5" fill="#8e625b"  stroke="#8e625b" stroke-width="0.7" stroke-linejoin="round"/><polygon points="750.9,551.8 761.8,550.0 761.8,556.4 750.9,557.6" fill="#8e625b"  stroke="#8e625b" stroke-width="0.7" stroke-linejoin="round"/><polygon points="587.3,507.3 672.7,486.4 761.8,550.0 750.9,551.8" fill="#865f5a"  stroke="#865f5a" stroke-width="0.7" stroke-linejoin="round"/>
<line x1="588" y1="509.2" x2="750.5" y2="553.5" stroke="#b0806f" stroke-width="1.6"/>
<rect x="672.9" y="458.0" width="5.8" height="30.0" fill="url(#rod)"/><ellipse cx="675.8" cy="486.8" rx="5.5" ry="1.8" fill="#c8c8c2" stroke="#707070" stroke-width="0.5"/>
<polygon points="666.5,449.4 749.7,512.6 751.9,519.7 666.5,454.5" fill="#8e625b"  stroke="#8e625b" stroke-width="0.7" stroke-linejoin="round"/><polygon points="749.7,512.6 798.5,503.2 798.5,508.5 751.9,519.7" fill="#8e625b"  stroke="#8e625b" stroke-width="0.7" stroke-linejoin="round"/><polygon points="666.5,449.4 714.5,436.5 798.5,503.2 749.7,512.6" fill="#865f5a"  stroke="#865f5a" stroke-width="0.7" stroke-linejoin="round"/>
<line x1="667" y1="451" x2="750.5" y2="514.5" stroke="#a4756c" stroke-width="1.6"/>
<rect x="750.9" y="374.0" width="4.1" height="146.0" fill="url(#rod)"/>
<rect x="751.5" y="519.0" width="4.0" height="33.0" fill="url(#rod)"/><ellipse cx="753.5" cy="550.8" rx="3.8" ry="1.8" fill="#c8c8c2" stroke="#707070" stroke-width="0.5"/>
<rect x="751.5" y="557.0" width="4.0" height="31.0" fill="url(#rod)"/><ellipse cx="753.5" cy="586.8" rx="3.8" ry="1.8" fill="#c8c8c2" stroke="#707070" stroke-width="0.5"/>
<ellipse cx="753.3" cy="518" rx="4" ry="1.8" fill="#c8c8c2"/>
<ellipse cx="790.6" cy="500" rx="4" ry="1.8" fill="#c8c8c2"/>
<line x1="737.5" y1="386" x2="795" y2="312" stroke="#8a5a44" stroke-width="8.5" />
<line x1="736.8" y1="385.2" x2="794.3" y2="311.2" stroke="#b07656" stroke-width="5.5" />
<line x1="736.2" y1="384.6" x2="793.7" y2="310.6" stroke="#cf9570" stroke-width="2" />
<line x1="732.5" y1="390.5" x2="739" y2="382.2" stroke="#6c6c6a" stroke-width="8.5" />
<line x1="731.8" y1="389.8" x2="738.3" y2="381.5" stroke="#e4e4e0" stroke-width="5" />
<line x1="793.2" y1="314.2" x2="799.5" y2="306.2" stroke="#5a5a58" stroke-width="8.5" />
<line x1="792.5" y1="313.5" x2="798.8" y2="305.5" stroke="#e8e8e4" stroke-width="5" />
<text transform="translate(356.8,657.0) rotate(-35.4)" style="font-family:'Liberation Sans',sans-serif;font-weight:bold;font-size:60px" textLength="430" lengthAdjust="spacingAndGlyphs" fill="#c0c0c0" stroke="#c0c0c0" stroke-width="4.8" stroke-linejoin="round">lestnicy-prosto.ru</text><text transform="translate(356.8,657.0) rotate(-35.4)" style="font-family:'Liberation Sans',sans-serif;font-weight:bold;font-size:60px" textLength="430" lengthAdjust="spacingAndGlyphs" fill="#fff">lestnicy-prosto.ru</text>
</svg></body></html>
